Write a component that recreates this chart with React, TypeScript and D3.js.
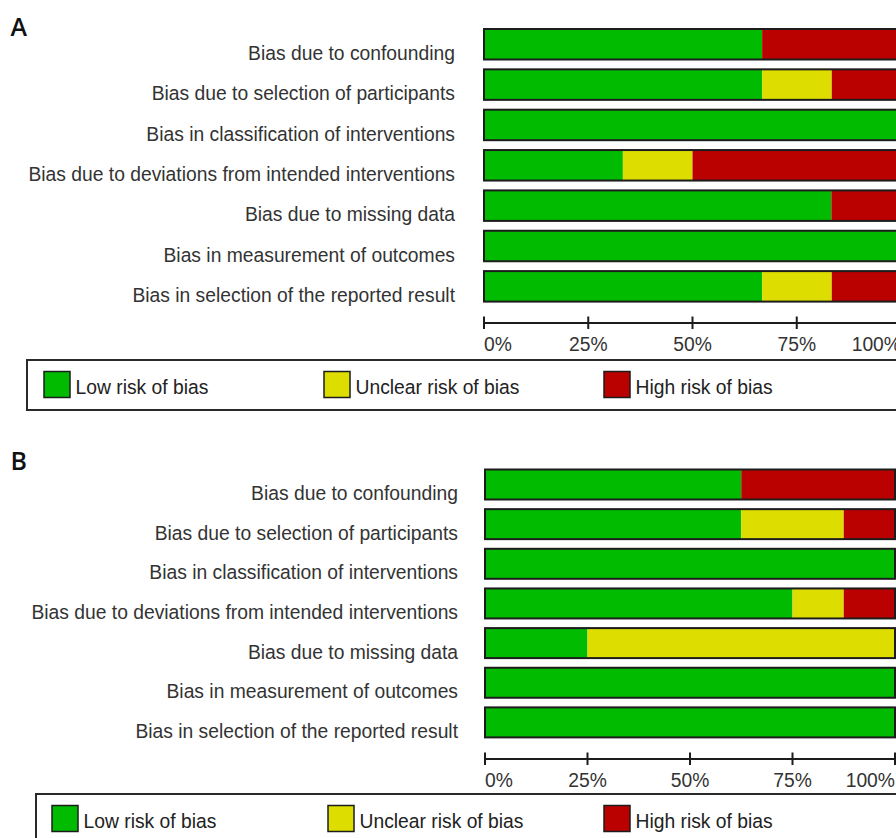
import React from "react";
import * as d3 from "d3";

// Risk-of-bias domains (same for both panels)
const domains = [
  "Bias due to confounding",
  "Bias due to selection of participants",
  "Bias in classification of interventions",
  "Bias due to deviations from intended interventions",
  "Bias due to missing data",
  "Bias in measurement of outcomes",
  "Bias in selection of the reported result",
];

// Panel A percentages per domain
const lowA = [66.7, 66.7, 100, 33.3, 83.3, 100, 66.7];
const unclearA = [0, 16.7, 0, 16.7, 0, 0, 16.7];
const highA = [33.3, 16.7, 0, 50, 16.7, 0, 16.7];

// Panel B percentages per domain
const lowB = [62.5, 62.5, 100, 75, 25, 100, 100];
const unclearB = [0, 25, 0, 12.5, 75, 0, 0];
const highB = [37.5, 12.5, 0, 12.5, 0, 0, 0];

const ticks = [0, 25, 50, 75, 100];
const judgements = ["Low risk of bias", "Unclear risk of bias", "High risk of bias"];
const colors = ["#00bb00", "#dddd00", "#bb0000"];

const FONT = "'Liberation Sans', Arial, sans-serif";

type PanelProps = {
  letter: string;
  letterY: number;
  low: number[];
  unclear: number[];
  high: number[];
  x0: number;
  x1: number;
  top: number;
  step: number;
  barH: number;
  labelRight: number;
  axisY: number;
  legendX: number;
  legendY: number;
  legendH: number;
  swatchX: number[];
};

function Panel(p: PanelProps) {
  const x = d3.scaleLinear().domain([0, 100]).range([p.x0, p.x1]);
  const n = domains.length;
  const y = d3
    .scaleBand<string>()
    .domain(domains)
    .range([p.top, p.top + p.step * (n - 1) + p.barH])
    .paddingInner((p.step - p.barH) / p.step)
    .paddingOuter(0)
    .align(0);
  const series = [p.low, p.unclear, p.high];
  const stackRows = domains.map((d, i) => {
    let acc = 0;
    return series.map((s, k) => {
      const start = acc;
      acc += s[i];
      return { k, start, end: acc };
    });
  });
  const bw = y.bandwidth();
  return (
    <g>
      <text x={10.5} y={p.letterY} fontFamily="'Open Sans', sans-serif" fontSize={25} fontWeight={600} fill="#111">
        {p.letter}
      </text>
      {domains.map((d, i) => {
        const yy = y(d)!;
        return (
          <g key={d}>
            <text x={p.labelRight} y={yy + bw + 0.5} textAnchor="end" fontFamily={FONT} fontSize={19.3} fill="#333">
              {d}
            </text>
            {stackRows[i]
              .filter((s) => s.end > s.start)
              .map((s) => (
                <rect
                  key={s.k}
                  x={x(s.start)}
                  y={yy}
                  width={x(s.end) - x(s.start)}
                  height={bw}
                  fill={colors[s.k]}
                />
              ))}
            <rect x={x(0)} y={yy} width={x(100) - x(0)} height={bw} fill="none" stroke="#1c1c1c" strokeWidth={2} />
          </g>
        );
      })}
      {/* percentage axis */}
      <line x1={x(0)} x2={x(100)} y1={p.axisY} y2={p.axisY} stroke="#1c1c1c" strokeWidth={2} />
      {ticks.map((t, i) => (
        <g key={t}>
          <line x1={x(t)} x2={x(t)} y1={p.axisY - 6.5} y2={p.axisY + 6} stroke="#1c1c1c" strokeWidth={2} />
          <text
            x={x(t)}
            y={p.axisY + 27.5}
            textAnchor={i === 0 ? "start" : i === ticks.length - 1 ? "end" : "middle"}
            fontFamily={FONT}
            fontSize={19.3}
            fill="#333"
          >
            {t}%
          </text>
        </g>
      ))}
      {/* legend */}
      <rect
        x={p.legendX}
        y={p.legendY}
        width={920 - p.legendX}
        height={p.legendH}
        fill="none"
        stroke="#2a2a2a"
        strokeWidth={2}
      />
      {judgements.map((j, k) => (
        <g key={j}>
          <rect
            x={p.swatchX[k]}
            y={p.legendY + 11.5}
            width={26}
            height={26}
            fill={colors[k]}
            stroke="#1c1c1c"
            strokeWidth={1.5}
          />
          <text x={p.swatchX[k] + 31.5} y={p.legendY + 33.5} fontFamily={FONT} fontSize={19.3} fill="#222">
            {j}
          </text>
        </g>
      ))}
    </g>
  );
}

export default function App() {
  return (
    <svg
      width={896}
      height={838}
      viewBox="0 0 896 838"
      style={{ position: "absolute", left: 0, top: 0, background: "#fff" }}
    >
      <rect width={896} height={838} fill="#fff" />
      <Panel
        letter="A"
        letterY={35.5}
        low={lowA}
        unclear={unclearA}
        high={highA}
        x0={484}
        x1={901}
        top={29}
        step={40.35}
        barH={30.5}
        labelRight={455}
        axisY={323}
        legendX={27}
        legendY={360}
        legendH={50}
        swatchX={[44, 324, 604]}
      />
      <Panel
        letter="B"
        letterY={470}
        low={lowB}
        unclear={unclearB}
        high={highB}
        x0={485}
        x1={895}
        top={469.5}
        step={39.65}
        barH={30}
        labelRight={458}
        axisY={759}
        legendX={36}
        legendY={794}
        legendH={80}
        swatchX={[52, 328, 604]}
      />
    </svg>
  );
}
